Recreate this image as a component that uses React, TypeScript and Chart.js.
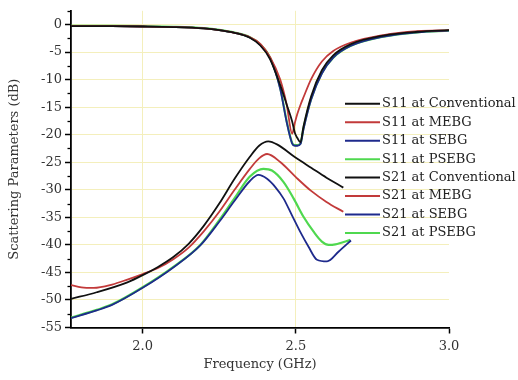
import { useEffect, useRef } from "react";
import { Chart, registerables } from "chart.js";

Chart.register(...registerables);

const FONT = "'DejaVu Serif', serif";

// X (frequency, GHz) and Y (dB) ranges and ticks
const xMin = 1.766;
const xMax = 3.0;
const xTicks = [2.0, 2.5, 3.0];
const yMin = -55;
const yMax = 2.5;
const yMajorTicks = [-55, -50, -45, -40, -35, -30, -25, -20, -15, -10, -5, 0];
const yMinorTicks = [2.5, -2.5, -7.5, -12.5, -17.5, -22.5, -27.5, -32.5, -37.5, -42.5, -47.5, -52.5];

// S11 curves
const s11Freq = [1.766, 1.9, 2.0, 2.1, 2.2, 2.25, 2.3, 2.35, 2.384, 2.416, 2.449, 2.47, 2.488, 2.497, 2.505, 2.515, 2.525, 2.55, 2.585, 2.622, 2.678, 2.786, 2.897, 3.0];
const s11Conventional = [-0.3, -0.3, -0.35, -0.45, -0.7, -1.0, -1.5, -2.4, -3.8, -6.3, -11.0, -14.5, -17.6, -19.7, -20.6, -21.4, -18.5, -13.0, -8.3, -5.6, -3.6, -2.0, -1.3, -1.0];
const s11MEBG = [-0.3, -0.3, -0.35, -0.45, -0.7, -1.0, -1.5, -2.3, -3.5, -5.9, -10.0, -14.5, -19.8, -17.8, -16.2, -14.6, -13.2, -9.9, -6.7, -4.8, -3.3, -1.9, -1.2, -1.0];
const s11SEBG = [-0.3, -0.3, -0.35, -0.45, -0.7, -1.0, -1.5, -2.35, -3.7, -6.1, -11.7, -17.7, -21.6, -22.0, -22.0, -21.7, -19.0, -13.6, -8.9, -6.0, -3.9, -2.2, -1.4, -1.1];
const s11PSEBG = [-0.25, -0.25, -0.3, -0.4, -0.65, -0.95, -1.45, -2.3, -3.6, -6.0, -11.5, -17.5, -21.5, -21.9, -21.9, -21.6, -18.8, -13.5, -8.8, -6.0, -3.9, -2.2, -1.4, -1.1];

// S21 curves
const s21ConvFreq = [1.766, 1.85, 1.95, 2.0, 2.05, 2.1, 2.15, 2.2, 2.25, 2.3, 2.35, 2.38, 2.41, 2.44, 2.5, 2.55, 2.6, 2.655];
const s21Conventional = [-49.8, -48.6, -46.8, -45.5, -44.0, -42.2, -39.8, -36.5, -32.5, -28.0, -24.0, -22.0, -21.2, -21.8, -24.2, -26.0, -27.8, -29.6];
const s21MebgFreq = [1.766, 1.8, 1.84, 1.9, 1.95, 2.0, 2.05, 2.1, 2.15, 2.2, 2.25, 2.3, 2.35, 2.38, 2.406, 2.45, 2.5, 2.55, 2.6, 2.655];
const s21MEBG = [-47.3, -47.7, -47.8, -47.2, -46.3, -45.3, -44.2, -42.6, -40.5, -37.5, -34.0, -30.0, -26.2, -24.3, -23.5, -25.0, -27.7, -30.2, -32.2, -34.0];
const s21SebgFreq = [1.766, 1.85, 1.9, 2.0, 2.1, 2.188, 2.25, 2.3, 2.35, 2.378, 2.406, 2.433, 2.46, 2.487, 2.514, 2.541, 2.569, 2.602, 2.64, 2.68];
const s21SEBG = [-53.3, -51.9, -50.9, -47.8, -44.1, -40.1, -35.8, -32.0, -28.4, -27.3, -28.0, -29.5, -31.6, -34.6, -37.6, -40.3, -42.7, -43.0, -41.2, -39.2];
const s21PsebgFreq = [1.766, 1.85, 1.9, 2.0, 2.1, 2.188, 2.25, 2.3, 2.35, 2.394, 2.422, 2.46, 2.493, 2.525, 2.558, 2.585, 2.607, 2.629, 2.678];
const s21PSEBG = [-53.2, -51.8, -50.8, -47.7, -44.0, -40.0, -35.5, -31.5, -27.6, -26.2, -26.5, -28.6, -31.6, -34.9, -37.6, -39.4, -40.0, -39.9, -39.1];

const labels = [
  "S11 at Conventional",
  "S11 at MEBG",
  "S11 at SEBG",
  "S11 at PSEBG",
  "S21 at Conventional",
  "S21 at MEBG",
  "S21 at SEBG",
  "S21 at PSEBG",
];

const BLACK = "#111111";
const RED = "#c23a3a";
const BLUE = "#1e2a8c";
const GREEN = "#4fd84f";

const seriesList: { freq: number[]; vals: number[]; color: string; width: number }[] = [
  { freq: s11Freq, vals: s11Conventional, color: BLACK, width: 1.8 },
  { freq: s11Freq, vals: s11MEBG, color: RED, width: 1.8 },
  { freq: s11Freq, vals: s11SEBG, color: BLUE, width: 1.8 },
  { freq: s11Freq, vals: s11PSEBG, color: GREEN, width: 2.2 },
  { freq: s21ConvFreq, vals: s21Conventional, color: BLACK, width: 1.8 },
  { freq: s21MebgFreq, vals: s21MEBG, color: RED, width: 1.8 },
  { freq: s21SebgFreq, vals: s21SEBG, color: BLUE, width: 1.8 },
  { freq: s21PsebgFreq, vals: s21PSEBG, color: GREEN, width: 2.2 },
];

const extrasPlugin = {
  id: "extras",
  afterDraw(chart: any) {
    const ctx = chart.ctx as CanvasRenderingContext2D;
    const ys = chart.scales.y;
    const area = chart.chartArea;
    ctx.save();
    // minor y ticks
    ctx.strokeStyle = "#000";
    ctx.lineWidth = 1.3;
    for (const v of yMinorTicks) {
      const py = Math.round(ys.getPixelForValue(v)) + 0.5;
      ctx.beginPath();
      ctx.moveTo(area.left - 3.5, py);
      ctx.lineTo(area.left, py);
      ctx.stroke();
    }
    // legend
    const lx0 = area.left + 274;
    const lx1 = area.left + 309;
    const tx = area.left + 311;
    const top = area.top + 93;
    const step = 18.45;
    ctx.font = "13px " + FONT;
    ctx.textBaseline = "middle";
    ctx.textAlign = "left";
    chart.data.datasets.forEach((ds: any, i: number) => {
      const y = top + i * step;
      ctx.strokeStyle = ds.borderColor;
      ctx.lineWidth = 2;
      ctx.beginPath();
      ctx.moveTo(lx0, y);
      ctx.lineTo(lx1, y);
      ctx.stroke();
      ctx.fillStyle = "#222";
      ctx.fillText(ds.label, tx, y);
    });
    ctx.restore();
  },
};

export default function App() {
  const ref = useRef<HTMLCanvasElement | null>(null);

  useEffect(() => {
    if (!ref.current) return;
    const datasets = seriesList.map((s, i) => ({
      label: labels[i],
      data: s.freq.map((f, j) => ({ x: f, y: s.vals[j] })),
      borderColor: s.color,
      backgroundColor: s.color,
      borderWidth: s.width,
      pointRadius: 0,
      fill: false,
      cubicInterpolationMode: "monotone" as const,
    }));

    const chart = new Chart(ref.current, {
      type: "line",
      data: { datasets },
      options: {
        animation: false,
        responsive: false,
        layout: { padding: { top: 8, right: 69, bottom: 0, left: 0 } },
        plugins: {
          legend: { display: false },
          tooltip: { enabled: false },
        },
        scales: {
          x: {
            type: "linear",
            min: xMin,
            max: xMax,
            afterBuildTicks: (scale: any) => {
              scale.ticks = xTicks.map((v) => ({ value: v }));
            },
            afterFit: (scale: any) => {
              scale.height = 52.5;
            },
            ticks: {
              callback: (v: any) => Number(v).toFixed(1),
              font: { family: FONT, size: 13 },
              color: "#333",
              padding: 5,
              maxRotation: 0,
            },
            grid: {
              color: (c: any) => (c.tick && c.tick.value >= 2.99 ? "rgba(0,0,0,0)" : "#f4efbc"),
              lineWidth: 1,
              tickColor: "#000",
              tickLength: 6,
              tickWidth: 1.5,
            },
            border: { display: true, color: "#000", width: 1.8 },
            title: {
              display: true,
              text: "Frequency (GHz)",
              font: { family: FONT, size: 13 },
              color: "#333",
              padding: { top: 0, bottom: 8 },
            },
          },
          y: {
            type: "linear",
            min: yMin,
            max: yMax,
            afterBuildTicks: (scale: any) => {
              scale.ticks = yMajorTicks.map((v) => ({ value: v }));
            },
            afterFit: (scale: any) => {
              scale.width = 71;
            },
            ticks: {
              callback: (v: any) => String(v),
              font: { family: FONT, size: 13 },
              color: "#333",
              padding: 3,
            },
            grid: {
              color: (c: any) => (c.tick && c.tick.value <= -54.9 ? "rgba(0,0,0,0)" : "#f4efbc"),
              lineWidth: 1,
              tickColor: "#000",
              tickLength: 6,
              tickWidth: 1.5,
            },
            border: { display: true, color: "#000", width: 1.8 },
            title: {
              display: true,
              text: "Scattering Parameters (dB)",
              font: { family: FONT, size: 13 },
              color: "#333",
              padding: { top: 7, bottom: 0 },
            },
          },
        },
      },
      plugins: [extrasPlugin],
    });
    return () => chart.destroy();
  }, []);

  return (
    <div style={{ position: "fixed", left: 0, top: 0, width: 518, height: 380, background: "#fff" }}>
      <canvas ref={ref} width={518} height={380} style={{ display: "block" }} />
    </div>
  );
}
